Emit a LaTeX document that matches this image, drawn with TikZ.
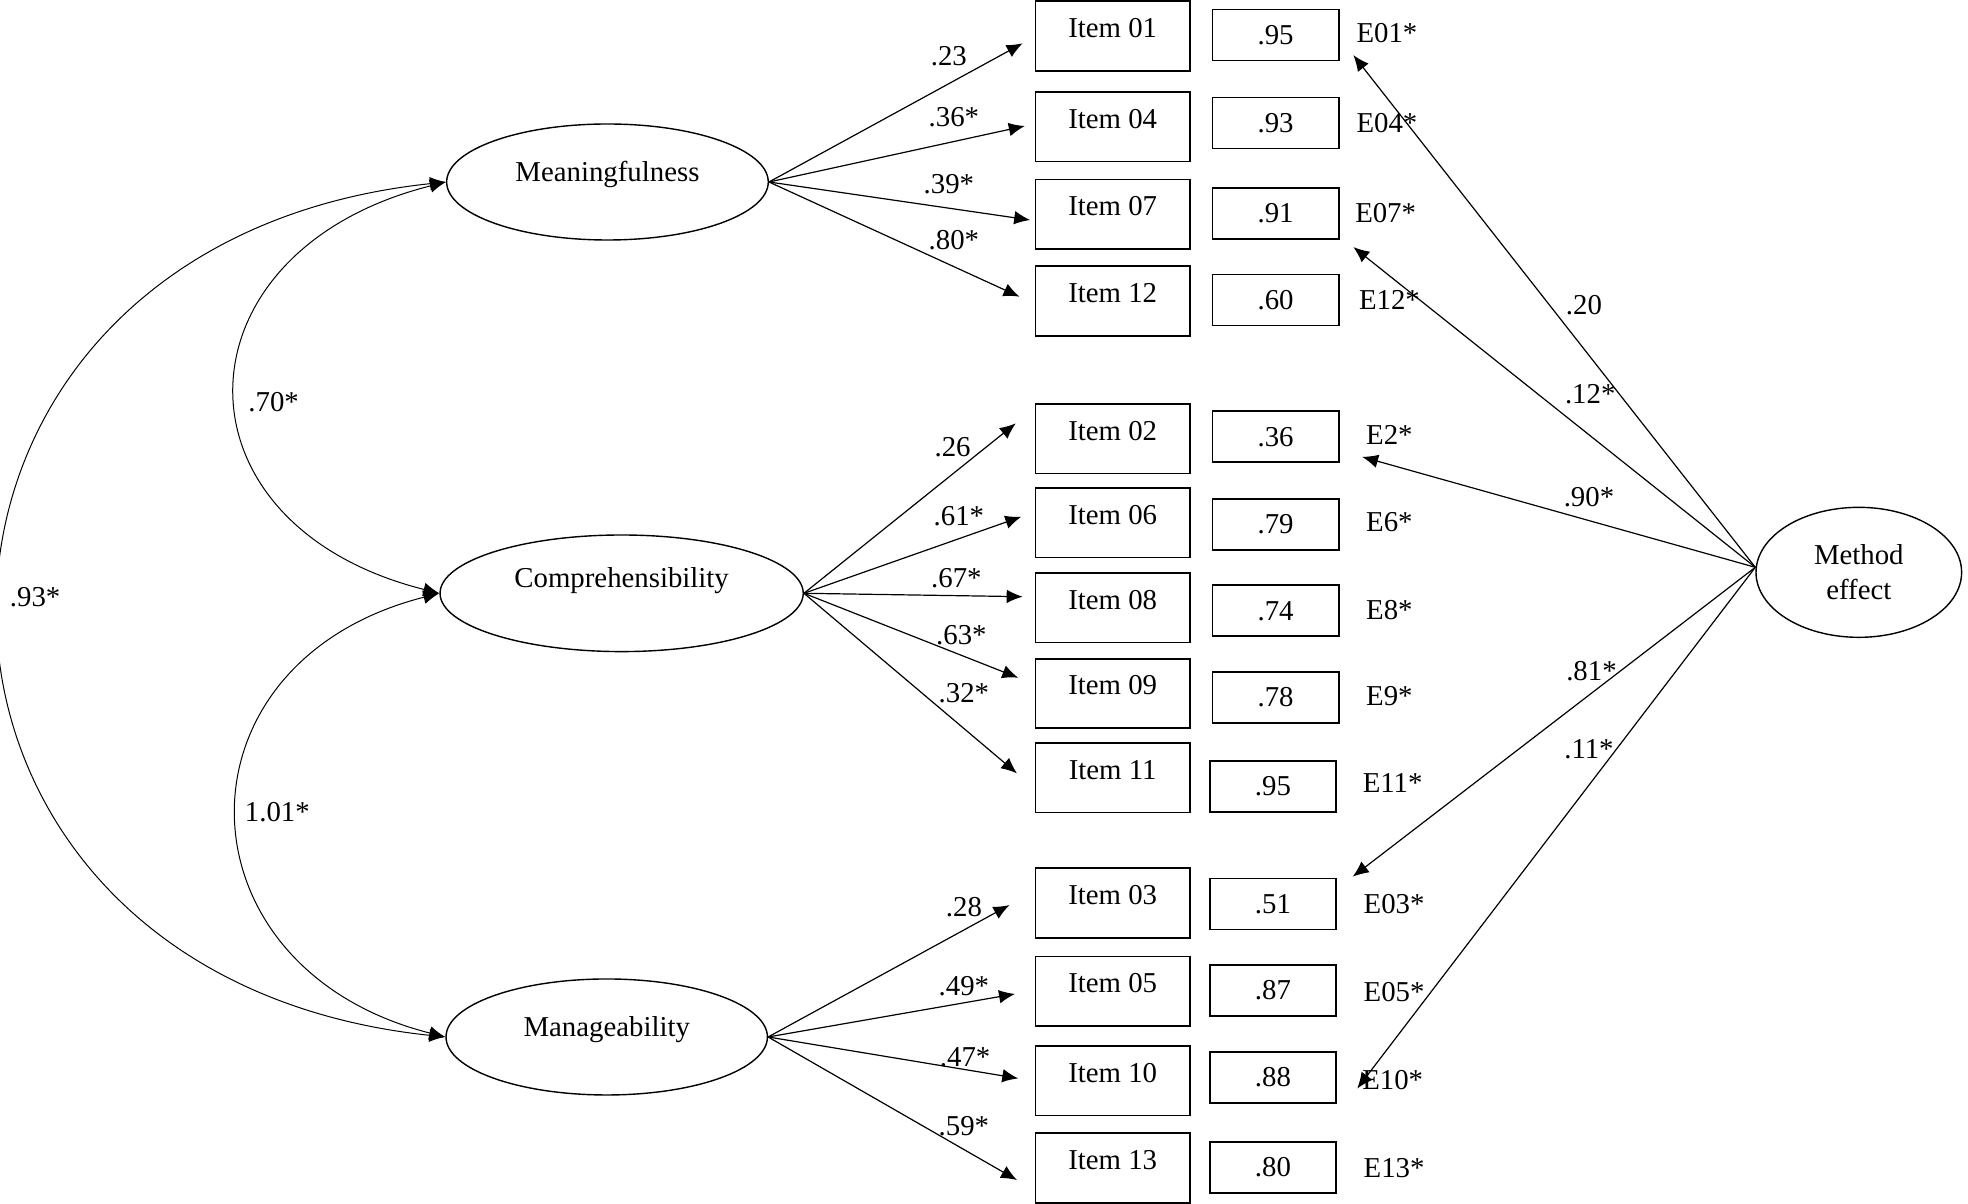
\documentclass[tikz,border=0pt]{standalone}
\usepackage{fontspec}
\setmainfont{Liberation Serif}
\usetikzlibrary{arrows.meta,shapes.geometric,calc}
\begin{document}
\begin{tikzpicture}[x=0.62755pt,y=-0.62755pt,
  every node/.style={font=\fontsize{14.4}{17.5}\selectfont},
  itembox/.style={draw, line width=0.85pt, minimum width=77.2pt, minimum height=34.8pt, inner sep=0pt, text height=9.4pt, text depth=8pt},
  errbox/.style={draw, line width=0.85pt, minimum width=63.1pt, minimum height=25.5pt, inner sep=0pt},
  latent/.style={ellipse, draw, line width=0.7pt, inner sep=0pt},
  lab/.style={inner sep=0pt},
  tip/.style={-{Latex[length=8pt,width=6.8pt]}, line width=0.6pt},
  cov/.style={{Latex[length=8pt,width=6.8pt]}-{Latex[length=8pt,width=6.8pt]}, line width=0.5pt},
]
\useasboundingbox (0,0) rectangle (1568,959);

% latent factors
\node[latent, minimum width=160.8pt, minimum height=58pt, text height=5pt, text depth=5pt] (mf) at (484,145) {Meaningfulness};
\node[latent, minimum width=181.6pt, minimum height=58.3pt, text height=0pt, text depth=5.3pt] (cp) at (495.3,472.7) {Comprehensibility};
\node[latent, minimum width=160.7pt, minimum height=58pt, text height=5pt, text depth=5pt] (mg) at (483.4,826.2) {Manageability};
\node[latent, minimum width=102.8pt, minimum height=65pt, align=center] (me) at (1481,456) {Method\\effect};

% items
\node[itembox] (i01) at (886.5,28.8) {Item 01};
\node[itembox] (i04) at (886.5,100.9) {Item 04};
\node[itembox] (i07) at (886.5,170.8) {Item 07};
\node[itembox] (i12) at (886.5,239.9) {Item 12};
\node[itembox] (i02) at (886.5,349.5) {Item 02};
\node[itembox] (i06) at (886.5,416.5) {Item 06};
\node[itembox] (i08) at (886.5,484.2) {Item 08};
\node[itembox] (i09) at (886.5,552.5) {Item 09};
\node[itembox] (i11) at (886.5,619.6) {Item 11};
\node[itembox] (i03) at (886.5,719.4) {Item 03};
\node[itembox] (i05) at (886.5,789.9) {Item 05};
\node[itembox] (i10) at (886.5,861) {Item 10};
\node[itembox] (i13) at (886.5,930.6) {Item 13};

% error boxes
\node[errbox] (e01) at (1016.3,27.9) {.95};
\node[errbox] (e04) at (1016.3,98) {.93};
\node[errbox] (e07) at (1016.3,170) {.91};
\node[errbox] (e12) at (1016.3,239) {.60};
\node[errbox] (e02) at (1016.3,348) {.36};
\node[errbox] (e06) at (1016.3,417.7) {.79};
\node[errbox] (e08) at (1016.3,486.6) {.74};
\node[errbox] (e09) at (1016.3,555.5) {.78};
\node[errbox] (e11) at (1014.2,626.5) {.95};
\node[errbox] (e03) at (1014.2,720.3) {.51};
\node[errbox] (e05) at (1014.2,789.2) {.87};
\node[errbox] (e10) at (1014.2,858.4) {.88};
\node[errbox] (e13) at (1014.2,930.1) {.80};

% error labels
\node[lab] (n01) at (1105,26) {E01*};
\node[lab] (n04) at (1105,98.3) {E04*};
\node[lab] (n07) at (1104,170) {E07*};
\node[lab] (n12) at (1107,239) {E12*};
\node[lab] (n02) at (1107,346.6) {E2*};
\node[lab] (n06) at (1107,415.7) {E6*};
\node[lab] (n08) at (1107,486) {E8*};
\node[lab] (n09) at (1107,555) {E9*};
\node[lab] (n11) at (1109.6,624.2) {E11*};
\node[lab] (n03) at (1110.7,720) {E03*};
\node[lab] (n05) at (1110.7,790.2) {E05*};
\node[lab] (n10) at (1109.6,860.5) {E10*};
\node[lab] (n13) at (1110.7,931) {E13*};

% loadings: Meaningfulness
\draw[tip] (mf.east) -- ($(i01.west)+(-9.5,5.7)$);
\draw[tip] (mf.east) -- ($(i04.west)+(-7.8,-0.5)$);
\draw[tip] (mf.east) -- ($(i07.west)+(-3.5,4.5)$);
\draw[tip] (mf.east) -- ($(i12.west)+(-12,-3.5)$);
\node[lab] (w01) at (756,45) {.23};
\node[lab] (w04) at (760,93) {.36*};
\node[lab] (w07) at (756,147) {.39*};
\node[lab] (w12) at (760,191) {.80*};

% loadings: Comprehensibility
\draw[tip] (cp.east) -- ($(i02.west)+(-15,-12.2)$);
\draw[tip] (cp.east) -- ($(i06.west)+(-10.6,-4.8)$);
\draw[tip] (cp.east) -- ($(i08.west)+(-9.5,-8.8)$);
\draw[tip] (cp.east) -- ($(i09.west)+(-13,-12.5)$);
\draw[tip] (cp.east) -- ($(i11.west)+(-14,-3.4)$);
\node[lab] (w02) at (759,356) {.26};
\node[lab] (w06) at (764,411) {.61*};
\node[lab] (w08) at (762,461) {.67*};
\node[lab] (w09) at (766,506) {.63*};
\node[lab] (w11) at (768,552) {.32*};

% loadings: Manageability
\draw[tip] (mg.east) -- ($(i03.west)+(-20,1.7)$);
\draw[tip] (mg.east) -- ($(i05.west)+(-15.6,2)$);
\draw[tip] (mg.east) -- ($(i10.west)+(-13,-1.8)$);
\draw[tip] (mg.east) -- ($(i13.west)+(-14,9.6)$);
\node[lab] (w03) at (768,723) {.28};
\node[lab] (w05) at (768,786) {.49*};
\node[lab] (w10) at (769,842) {.47*};
\node[lab] (w13) at (768,897) {.59*};

% method effect
\coordinate (mo) at ($(me.west)+(0,-4)$);
\draw[tip] (mo) -- ($(e01.east)+(11,16)$);
\draw[tip] (mo) -- ($(e07.east)+(11,26.8)$);
\draw[tip] (mo) -- ($(e02.east)+(18,16)$);
\draw[tip] (mo) -- ($(e03.east)+(12.6,-21.8)$);
\draw[tip] (mo) -- ($(e10.east)+(16.2,8.9)$);
\node[lab] (m01) at (1262,243) {.20};
\node[lab] (m07) at (1267,314) {.12*};
\node[lab] (m02) at (1266,396) {.90*};
\node[lab] (m03) at (1268,535) {.81*};
\node[lab] (m10) at (1266,597) {.11*};

% covariances
\draw[cov] (mf.west) .. controls ($(mf.west)+(-219,55)$) and ($(cp.west)+(-219,-55)$) .. (cp.west);
\draw[cov] (cp.west) .. controls ($(cp.west)+(-217,55)$) and ($(mg.west)+(-217,-55)$) .. (mg.west);
\draw[cov] (mf.west) .. controls ($(mf.west)+(-473.5,50)$) and ($(mg.west)+(-473.5,-50)$) .. (mg.west);
\node[lab] (c1) at (218,320) {.70*};
\node[lab] (c2) at (221,647) {1.01*};
\node[lab] (c3) at (28,476) {.93*};
\end{tikzpicture}
\end{document}
